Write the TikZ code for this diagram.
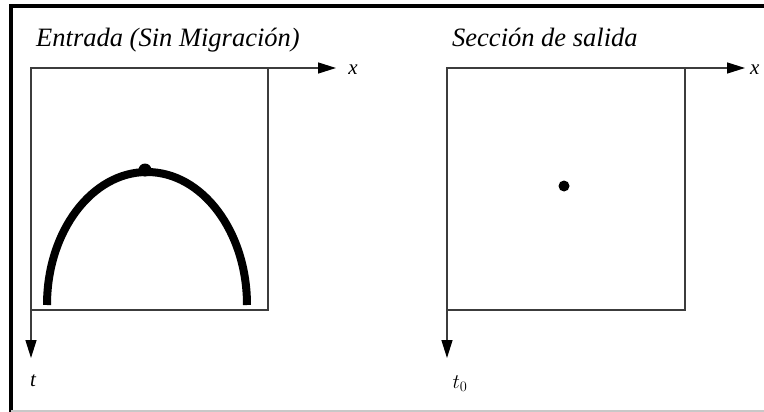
\documentclass[tikz,border=0pt]{standalone}
\usepackage{fontspec}
\setmainfont{Liberation Serif}
\usepackage{tikz}
\usetikzlibrary{arrows.meta,calc,positioning}
\definecolor{AxisGray}{RGB}{60,60,60}
\definecolor{FrameGray}{RGB}{200,200,200}

\begin{document}
\begin{tikzpicture}[x=1pt, y=-1pt, >={Triangle[length=18pt, width=11pt, color=black]},
    axis/.style={draw=AxisGray, line width=1.4pt},
    panel/.style={draw=AxisGray, line width=1.4pt},
    title/.style={anchor=base west, inner sep=0pt, font=\fontsize{26.5}{30}\selectfont\itshape},
    axislabel/.style={inner sep=0pt, font=\fontsize{21}{24}\selectfont\itshape}]
    \useasboundingbox (0,0) rectangle (764,412);

    % Frame
    \draw[line width=4pt] (11,412) -- (11,6) -- (764,6);
    \draw[FrameGray, line width=1.5pt] (11,411) -- (764,411);

    % Input section
    \coordinate (inO) at (31,68);
    \coordinate (inC) at (268,310);
    \node[title] (inTitle) at (36,47) {Entrada (Sin Migración)};
    \draw[panel] (inO) rectangle (inC);
    \coordinate (inX) at (336,68);
    \coordinate (inT) at (31,358);
    \draw[axis, ->] (inO) -- (inX);
    \draw[axis, ->] (inO) -- (inT);
    \node[axislabel] (inXlab) at (353,70) {x};
    \node[axislabel] (inTlab) at (33,381) {t};
    \draw[line width=8pt] (47,305) arc[start angle=180, end angle=360, x radius=100, y radius=133];
    \fill (145,170) circle (6.5);

    % Output section
    \coordinate (outO) at (447,68);
    \coordinate (outC) at (685,310);
    \node[title] (outTitle) at (452,47) {Sección de salida};
    \draw[panel] (outO) rectangle (outC);
    \coordinate (outX) at (745,68);
    \coordinate (outT) at (447,358);
    \draw[axis, ->] (outO) -- (outX);
    \draw[axis, ->] (outO) -- (outT);
    \node[axislabel, anchor=west] (outXlab) at (750,70) {x};
    \node[axislabel] (outTlab) at (460,384) {$t_0$};
    \fill (564,186) circle (5.5);
\end{tikzpicture}
\end{document}
